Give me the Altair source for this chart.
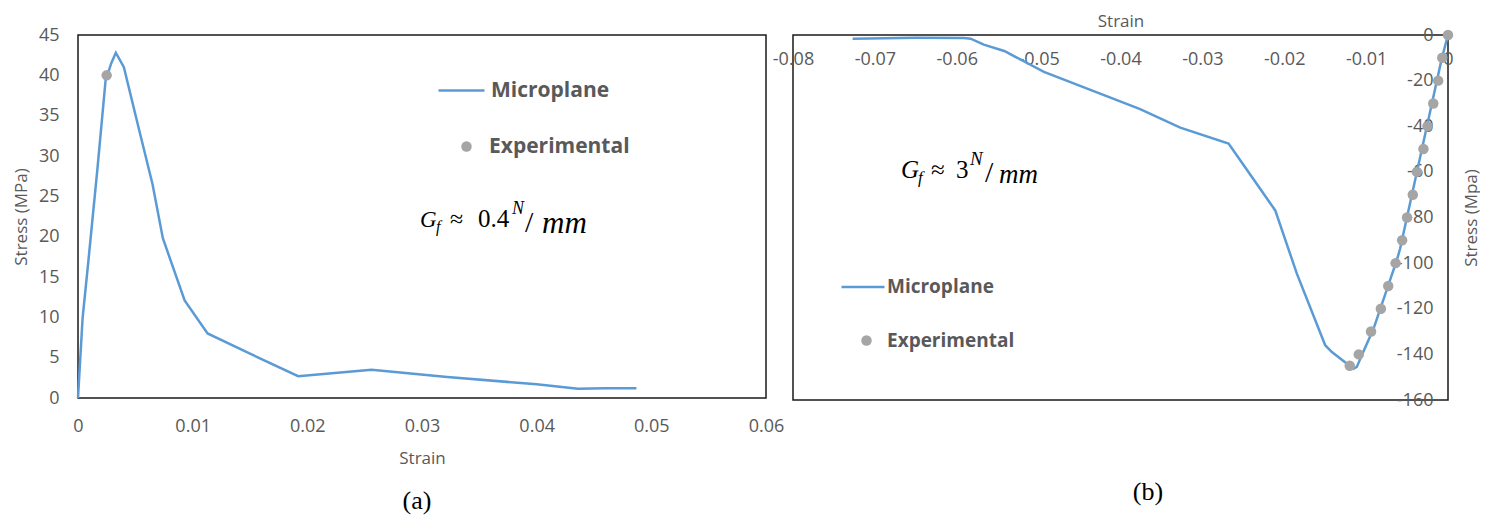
import altair as alt
import pandas as pd

# ---------------- data ----------------
# Panel (a): tension
a_line_strain = [0, 0.0004, 0.0009, 0.0017, 0.0024, 0.0029, 0.0033, 0.0040, 0.0052, 0.0065,
                 0.0074, 0.0093, 0.0113, 0.0150, 0.0192, 0.0224, 0.0256, 0.0322, 0.0400,
                 0.0436, 0.0460, 0.0487]
a_line_stress = [0, 9.9, 16.9, 28.5, 39.3, 41.5, 42.8, 41.0, 34.0, 26.5,
                 19.8, 12.1, 8.0, 5.5, 2.7, 3.1, 3.5, 2.6, 1.7,
                 1.15, 1.2, 1.2]
a_exp_strain = [0.0025]
a_exp_stress = [40.0]

# Panel (b): compression
b_line_strain = [0, -0.00077, -0.00585, -0.00626, -0.0091, -0.01053, -0.01114, -0.01155,
                 -0.01418, -0.0150, -0.01846, -0.0211, -0.0268, -0.0327, -0.0335, -0.0376,
                 -0.04935, -0.0542, -0.0567, -0.0583, -0.0591, -0.0650, -0.07272]
b_line_stress = [0, -10.4, -93.7, -98.8, -128.8, -140.4, -145.5, -146.3,
                 -139.0, -136.0, -104.6, -76.9, -47.6, -40.6, -39.3, -32.5,
                 -16.2, -7.0, -4.2, -1.6, -1.3, -1.2, -1.6]
b_exp_strain = [0, -0.0007, -0.0012, -0.0018, -0.0025, -0.0030, -0.0038, -0.0043, -0.0050,
                -0.0056, -0.0064, -0.0073, -0.0082, -0.0094, -0.0109, -0.0120]
b_exp_stress = [0, -10, -20, -30, -40, -50, -60, -70, -80,
                -90, -100, -110, -120, -130, -140, -145]

a_x_ticks = [0, 0.01, 0.02, 0.03, 0.04, 0.05, 0.06]
a_y_ticks = [0, 5, 10, 15, 20, 25, 30, 35, 40, 45]
b_x_ticks = [-0.08, -0.07, -0.06, -0.05, -0.04, -0.03, -0.02, -0.01, 0]
b_y_ticks = [-160, -140, -120, -100, -80, -60, -40, -20, 0]

series_names = ["Microplane", "Experimental"]

# ---------------- style ----------------
BLUE = "#5B9BD5"
PT = "#A5A5A5"
TXT = "#595959"
FONT = "Open Sans"
SERIF = "Liberation Serif"

A_W, A_H = 688, 363
B_W, B_H = 655, 365

a_line = pd.DataFrame({"strain": a_line_strain, "stress": a_line_stress, "series": series_names[0]})
a_exp = pd.DataFrame({"strain": a_exp_strain, "stress": a_exp_stress, "series": series_names[1]})
b_line = pd.DataFrame({"strain": b_line_strain, "stress": b_line_stress, "series": series_names[0]})
b_exp = pd.DataFrame({"strain": b_exp_strain, "stress": b_exp_stress, "series": series_names[1]})

lab = dict(labelFont=FONT, labelFontSize=18, labelColor=TXT, titleFont=FONT, titleFontSize=17,
           titleColor=TXT, titleFontWeight="normal", grid=False, ticks=False, tickSize=0,
           domain=False, labelFlush=False, labelOverlap=False, minExtent=0)


def stroke_legend(x, y, size, offset, fsize):
    return alt.Legend(title=None, orient="none", legendX=x, legendY=y, symbolType="stroke",
                      symbolSize=size, symbolStrokeWidth=2.5, labelFont=FONT, labelFontSize=fsize,
                      labelFontWeight="bold", labelColor=TXT, labelOffset=offset, padding=0)


def fill_legend(x, y, offset, fsize):
    return alt.Legend(title=None, orient="none", legendX=x, legendY=y, symbolType="circle",
                      symbolSize=110, symbolStrokeWidth=0, labelFont=FONT, labelFontSize=fsize,
                      labelFontWeight="bold", labelColor=TXT, labelOffset=offset, padding=0)


def text_piece(txt, x, y, size, italic=False, font=SERIF, color="#000000", baseline="alphabetic", align="left"):
    return alt.Chart(alt.Data(values=[{}])).mark_text(
        text=txt, align=align, baseline=baseline, font=font, fontSize=size,
        fontStyle="italic" if italic else "normal", color=color
    ).encode(x=alt.value(x), y=alt.value(y))


def formula(pieces, ox, oy):
    return [text_piece(t, x - ox, y - oy, s, it) for (t, x, y, s, it) in pieces]


# ---------------- panel (a) ----------------
ax_a = alt.X("strain:Q", scale=alt.Scale(domain=[0, 0.06], nice=False, zero=False),
             axis=alt.Axis(values=a_x_ticks, labelExpr="'' + datum.value", title="Strain",
                           orient="bottom", labelPadding=19, titlePadding=15, **lab))
ay_a = alt.Y("stress:Q", scale=alt.Scale(domain=[0, 45], nice=False, zero=False),
             axis=alt.Axis(values=a_y_ticks, labelExpr="'' + datum.value", title="Stress (MPa)",
                           orient="left", labelPadding=19, titlePadding=8, **lab))

a_l = alt.Chart(a_line).mark_line(strokeWidth=2.5).encode(
    x=ax_a, y=ay_a,
    stroke=alt.Stroke("series:N", scale=alt.Scale(domain=[series_names[0]], range=[BLUE]),
                      legend=stroke_legend(359, 31, 2116, 5, 21)))
a_p = alt.Chart(a_exp).mark_point(filled=True, size=110, opacity=1).encode(
    x=ax_a, y=ay_a,
    fill=alt.Fill("series:N", scale=alt.Scale(domain=[series_names[1]], range=[PT]),
                  legend=fill_legend(378, 101, 12, 21)))

OXA, OYA = 77, 33
a_formula = formula([
    ("G", 419, 225, 23, True),
    ("f", 435, 230, 16, True),
    ("\u2248", 449, 225, 24, False),
    ("0.4", 477, 225, 25, False),
    ("N", 511, 212, 18, True),
    ("/", 524, 230, 30, False),
    ("mm", 541, 231, 31, True),
], OXA, OYA)
a_cap = text_piece("(a)", 416 - OXA, 499 - OYA, 26, baseline="middle", align="center")

panel_a = alt.layer(a_l, a_p, *a_formula, a_cap).properties(width=A_W, height=A_H)

# ---------------- panel (b) ----------------
ax_b = alt.X("strain:Q", scale=alt.Scale(domain=[-0.08, 0], nice=False, zero=False),
             axis=alt.Axis(values=b_x_ticks, labelExpr="'' + datum.value", title="Strain",
                           orient="top", labelPadding=-24, labelBaseline="middle",
                           titlePadding=5, **lab))
ay_b = alt.Y("stress:Q", scale=alt.Scale(domain=[-160, 0], nice=False, zero=False),
             axis=alt.Axis(values=b_y_ticks, labelExpr="'' + datum.value", title="Stress (Mpa)",
                           orient="right", labelPadding=-15, labelAlign="right",
                           titleAngle=270, titleBaseline="top", titlePadding=15, **lab))

b_l = alt.Chart(b_line).mark_line(strokeWidth=2.5).encode(
    x=ax_b, y=ay_b, order=alt.Order("idx:Q"),
    stroke=alt.Stroke("series:N", scale=alt.Scale(domain=[series_names[0]], range=[BLUE]),
                      legend=stroke_legend(47, 229, 1849, 1, 19))
).transform_window(idx="row_number()")
b_p = alt.Chart(b_exp).mark_point(filled=True, size=110, opacity=1).encode(
    x=ax_b, y=ay_b,
    fill=alt.Fill("series:N", scale=alt.Scale(domain=[series_names[1]], range=[PT]),
                  legend=fill_legend(64, 296, 11, 19)))

OXB, OYB = 792, 33
b_formula = formula([
    ("G", 900, 176, 25, True),
    ("f", 917, 181, 17, True),
    ("\u2248", 930, 176, 25, False),
    ("3", 955, 176, 25, False),
    ("N", 969, 163, 19, True),
    ("/", 984, 180, 30, False),
    ("mm", 998, 181, 27, True),
], OXB, OYB)
b_cap = text_piece("(b)", 1147 - OXB, 490 - OYB, 26, baseline="middle", align="center")

panel_b = alt.layer(b_l, b_p, *b_formula, b_cap).properties(width=B_W, height=B_H)

chart = alt.hconcat(panel_a, panel_b, spacing=27, bounds="flush").resolve_scale(
    stroke="independent", fill="independent"
).resolve_legend(
    stroke="independent", fill="independent"
).properties(
    padding={"left": 3, "top": 3, "right": 0, "bottom": 0}
).configure(font=FONT).configure_view(
    stroke="#1a1a1a", strokeWidth=1.5
)

chart.save("out.html", embed_options={"renderer": "svg", "actions": False})
